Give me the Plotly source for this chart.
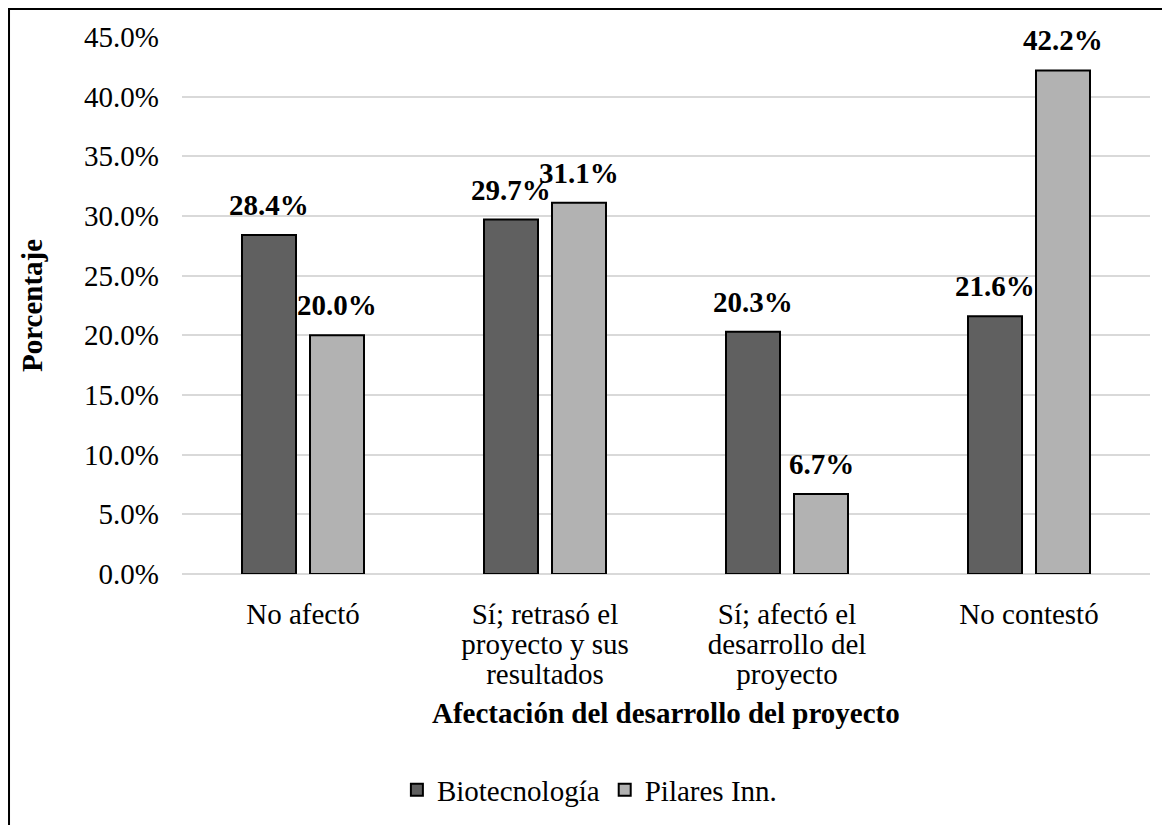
import plotly.graph_objects as go

categories = ["No afectó", "Sí; retrasó el<br>proyecto y sus<br>resultados",
              "Sí; afectó el<br>desarrollo del<br>proyecto", "No contestó"]
biotec = [28.4, 29.7, 20.3, 21.6]
pilares = [20.0, 31.1, 6.7, 42.2]
series_names = ["Biotecnología", "Pilares Inn."]
y_ticks = [0, 5, 10, 15, 20, 25, 30, 35, 40, 45]
y_tick_labels = ["%.1f%%" % v for v in y_ticks]
x_title = "Afectación del desarrollo del proyecto"
y_title = "Porcentaje"

FONT = "Liberation Serif, Times New Roman, serif"
colors = ["#606060", "#b2b2b2"]
offsets = [-34, 34]

# tick text: glyphs at 29px, line spacing driven by the 23px base font
x_tick_text = ["<br>".join("<span style='font-size:29px'>%s</span>" % ln
                           for ln in c.split("<br>")) for c in categories]

fig = go.Figure()
annotations = []
for name, vals, color, off in zip(series_names, [biotec, pilares], colors, offsets):
    fig.add_trace(go.Bar(
        x=categories, y=vals, name=name,
        marker=dict(color=color, line=dict(color="black", width=2)),
    ))
    for c, v in zip(categories, vals):
        annotations.append(dict(
            x=c, y=v, xref="x", yref="y", xshift=off, yshift=12,
            text="<b>%.1f%%</b>" % v, showarrow=False,
            xanchor="center", yanchor="bottom",
            font=dict(family=FONT, size=29, color="black"),
        ))

annotations.append(dict(
    x=0.5, y=-0.259, xref="paper", yref="paper",
    text="<b>%s</b>" % x_title, showarrow=False,
    xanchor="center", yanchor="middle",
    font=dict(family=FONT, size=29, color="black"),
))

fig.update_layout(
    width=1162, height=817,
    margin=dict(l=174, r=20, t=29, b=251, autoexpand=False),
    paper_bgcolor="white", plot_bgcolor="white",
    barmode="group", bargap=0.438, bargroupgap=0.206,
    font=dict(family=FONT, size=24, color="black"),
    showlegend=True,
    legend=dict(orientation="h", x=0.222, xanchor="left", xref="paper",
                y=-0.402, yanchor="middle",
                font=dict(family=FONT, size=29, color="black"),
                itemwidth=30, traceorder="normal"),
    xaxis=dict(
        tickvals=categories, ticktext=x_tick_text,
        tickfont=dict(family=FONT, size=23), automargin=False,
        showgrid=False, showline=False, ticks="", ticklabelstandoff=26,
    ),
    yaxis=dict(
        title=dict(text="<b>%s</b>" % y_title, font=dict(family=FONT, size=29),
                   standoff=32),
        range=[0, 45], tickvals=y_ticks, ticktext=y_tick_labels,
        tickfont=dict(family=FONT, size=29), automargin=False,
        showgrid=True, gridcolor="#d9d9d9", gridwidth=2,
        zeroline=True, zerolinecolor="#d9d9d9", zerolinewidth=2,
        showline=False, ticks="", ticklabelstandoff=22,
    ),
    annotations=annotations,
    shapes=[dict(type="rect", xref="paper", yref="paper",
                 x0=-0.1787, x1=1.2, y0=-0.8, y1=1.0521,
                 line=dict(color="black", width=2), fillcolor="rgba(0,0,0,0)",
                 layer="above")],
)

fig.write_html("out.html")
